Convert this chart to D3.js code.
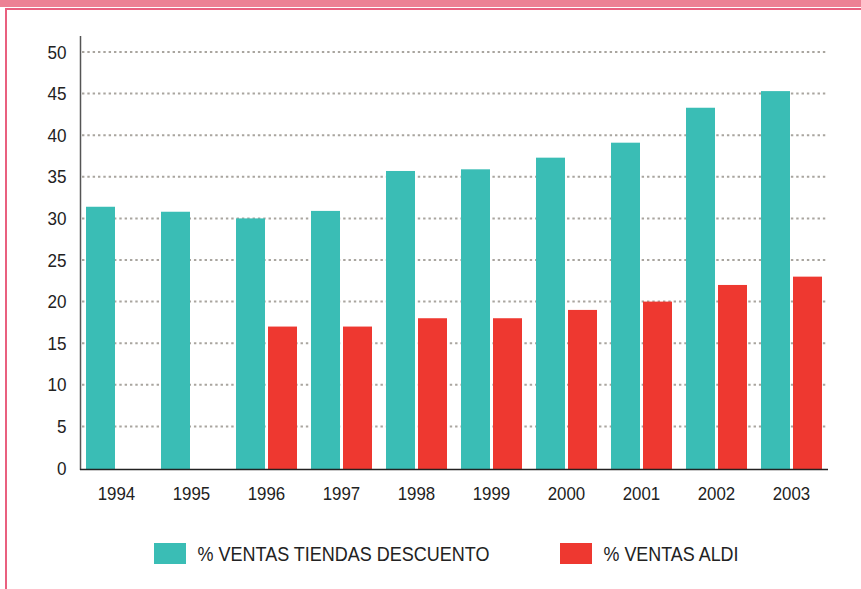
<!DOCTYPE html>
<html>
<head>
<meta charset="utf-8">
<script src="https://cdn.jsdelivr.net/npm/d3@7"></script>
<style>
  body { margin: 0; background: #fff; }
  svg { display: block; font-family: 'Liberation Sans', Arial, sans-serif; }
  .tick text { fill: #222; }
  .yAxis .tick text { font-size: 19px; }
  .xAxis .tick text { font-size: 17.7px; }
  .legend text { fill: #222; font-size: 19.5px; }
</style>
</head>
<body>
<div id="chart"></div>
<script>
/* global d3 */

const years = ['1994', '1995', '1996', '1997', '1998', '1999', '2000', '2001', '2002', '2003'];
const seriesNames = ['% VENTAS TIENDAS DESCUENTO', '% VENTAS ALDI'];
const discountSales = [31.4, 30.8, 30.0, 30.9, 35.7, 35.9, 37.3, 39.1, 43.3, 45.3];
const aldiSales = [null, null, 17, 17, 18, 18, 19, 20, 22, 23];
const yTicks = [0, 5, 10, 15, 20, 25, 30, 35, 40, 45, 50];

const colors = ['#3abdb5', '#ee3830'];

const width = 861;
const height = 589;

const svg = d3.select('#chart').append('svg')
  .attr('width', width)
  .attr('height', height);

// frame: pink band on top, thin white gap, darker pink rule, left border
svg.append('rect')
  .attr('x', 0).attr('y', 0)
  .attr('width', width).attr('height', 7)
  .style('fill', '#ec8194');
svg.append('rect')
  .attr('x', 5).attr('y', 8)
  .attr('width', width - 5).attr('height', 2)
  .style('fill', '#e9607f');
svg.append('rect')
  .attr('x', 5).attr('y', 8)
  .attr('width', 2).attr('height', height - 8)
  .style('fill', '#e9607f');

const yScale = d3.scaleLinear()
  .domain([0, 50])
  .range([468, 52]);

const xScale = d3.scaleBand()
  .domain(years)
  .range([79, 829])
  .paddingInner(14 / 75)
  .paddingOuter(7 / 75);

const xInner = d3.scaleBand()
  .domain([0, 1])
  .range([0, xScale.bandwidth()])
  .paddingInner(3 / 32)
  .paddingOuter(0);

// dotted gridlines
svg.append('g')
  .attr('class', 'grid')
  .selectAll('line')
  .data(yTicks.filter((d) => d > 0))
  .enter()
  .append('line')
  .attr('x1', 82)
  .attr('x2', 826)
  .attr('y1', (d) => yScale(d))
  .attr('y2', (d) => yScale(d))
  .style('stroke', '#a9a59f')
  .style('stroke-width', 2)
  .style('stroke-dasharray', '2.4,2.93');

const table = years.map((y, i) => ({ year: y, values: [discountSales[i], aldiSales[i]] }));

const groups = svg.append('g')
  .attr('class', 'bars')
  .selectAll('g')
  .data(table)
  .enter()
  .append('g')
  .attr('transform', (d) => `translate(${xScale(d.year)},0)`);

groups.selectAll('rect')
  .data((d) => d.values.map((v, k) => ({ k, v })).filter((e) => e.v !== null))
  .enter()
  .append('rect')
  .attr('x', (d) => xInner(d.k))
  .attr('width', xInner.bandwidth())
  .attr('y', (d) => yScale(d.v))
  .attr('height', (d) => yScale(0) + 1 - yScale(d.v))
  .style('fill', (d) => colors[d.k]);

// y axis
const yAxis = d3.axisLeft(yScale)
  .tickValues(yTicks)
  .tickSize(0)
  .tickPadding(14);

const yG = svg.append('g')
  .attr('class', 'yAxis')
  .attr('transform', 'translate(80.5,0)')
  .call(yAxis);
yG.select('.domain').remove();
// the original face is a bit narrower than Arial
yG.selectAll('.tick text')
  .attr('textLength', (d) => String(d).length * 9.5)
  .attr('lengthAdjust', 'spacingAndGlyphs');

svg.append('line')
  .attr('x1', 80.5).attr('x2', 80.5)
  .attr('y1', 36).attr('y2', 470)
  .style('stroke', '#555')
  .style('stroke-width', 1.5);

// x axis
const xAxis = d3.axisBottom(xScale)
  .tickSize(0)
  .tickPadding(18);

const xG = svg.append('g')
  .attr('class', 'xAxis')
  .attr('transform', 'translate(0,469)')
  .call(xAxis);
xG.select('.domain').remove();
xG.selectAll('.tick text')
  .attr('textLength', 37.5)
  .attr('lengthAdjust', 'spacingAndGlyphs');

svg.append('line')
  .attr('x1', 80).attr('x2', 828)
  .attr('y1', 469.5).attr('y2', 469.5)
  .style('stroke', '#222')
  .style('stroke-width', 1.5);

// legend
const legendItems = [
  { name: seriesNames[0], color: colors[0], x: 154, textLen: 292 },
  { name: seriesNames[1], color: colors[1], x: 560, textLen: 135 },
];

const legend = svg.append('g')
  .attr('class', 'legend')
  .selectAll('g')
  .data(legendItems)
  .enter()
  .append('g')
  .attr('transform', (d) => `translate(${d.x},543)`);

legend.append('rect')
  .attr('width', 32)
  .attr('height', 21)
  .style('fill', (d) => d.color);

legend.append('text')
  .attr('x', 43.5)
  .attr('y', 18.3)
  .attr('textLength', (d) => d.textLen)
  .attr('lengthAdjust', 'spacingAndGlyphs')
  .text((d) => d.name);
</script>
</body>
</html>
